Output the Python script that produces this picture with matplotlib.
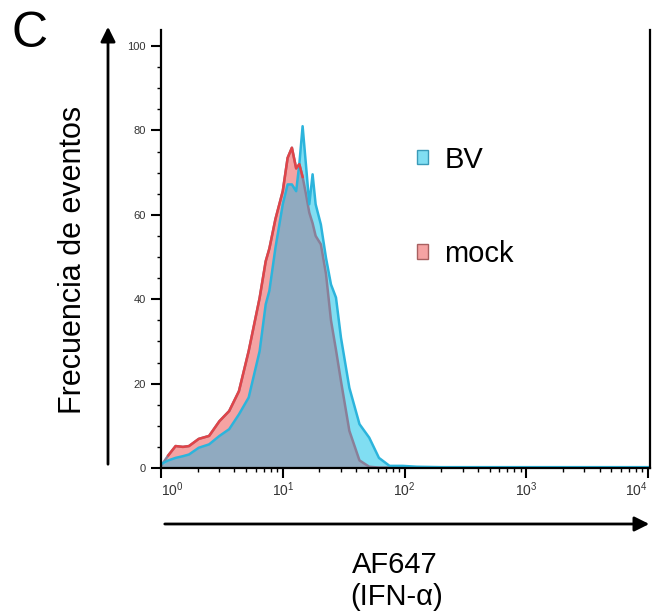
import numpy as np
import matplotlib
matplotlib.use("Agg")
import matplotlib.pyplot as plt
from matplotlib.patches import Patch
from matplotlib.ticker import FixedLocator, NullFormatter

plt.rcParams['font.family'] = ['Liberation Sans', 'DejaVu Sans']
plt.rcParams['mathtext.default'] = 'regular'

# posiciones del histograma en log10(AF647)
log_x = np.array([0.0, 0.06, 0.12, 0.18, 0.23, 0.31, 0.395, 0.48, 0.56, 0.64,
                  0.72, 0.81, 0.86, 0.89, 0.94, 1.0, 1.04, 1.075, 1.11, 1.136,
                  1.163, 1.19, 1.218, 1.245, 1.27, 1.313, 1.355, 1.396, 1.437,
                  1.478, 1.547, 1.63, 1.71, 1.79, 1.877, 1.986, 2.1, 2.3, 2.6,
                  3.0, 3.5, 4.0])
# frecuencia de eventos (% del max)
mock = np.array([0.5, 3.0, 5.2, 5.0, 5.2, 6.9, 7.6, 11.1, 13.5, 18.2,
                 27.7, 40.3, 49.0, 52.0, 59.0, 65.6, 73.5, 75.9, 71.0, 72.0,
                 69.0, 65.0, 60.5, 58.0, 55.0, 53.0, 46.0, 35.0, 28.0,
                 20.6, 8.8, 1.8, 0.3, 0.1, 0.1, 0.0, 0.0, 0.0, 0.0,
                 0.0, 0.0, 0.0])
bv = np.array([0.9, 1.8, 2.4, 2.8, 3.2, 4.8, 5.6, 7.6, 9.2, 12.7,
               16.7, 27.7, 38.8, 42.0, 52.2, 62.5, 67.2, 67.2, 65.6, 72.0,
               81.0, 72.0, 62.5, 69.6, 62.5, 57.7, 49.8, 43.5, 40.4,
               30.9, 19.0, 10.4, 7.2, 2.4, 0.5, 0.5, 0.3, 0.2, 0.2,
               0.2, 0.2, 0.2])
decades = [0, 1, 2, 3, 4]
y_ticks = [0, 20, 40, 60, 80, 100]

x = 10.0 ** log_x
overlap = np.minimum(mock, bv)

fig = plt.figure(figsize=(6.52, 6.14), dpi=100)
ax = fig.add_axes([161 / 652, 1 - 468 / 614, 489 / 652, 438 / 614])

# rellenos
ax.fill_between(x, 0, bv, color='#80def2', lw=0)
ax.fill_between(x, bv, mock, where=mock > bv, interpolate=True, color='#f5a3a3', lw=0)
ax.fill_between(x, 0, overlap, color='#90aac0', lw=0)

# contornos
ax.plot(x, mock, color='#8a7f98', lw=1.8)
ax.plot(x, bv, color='#2cb4dc', lw=1.8)
red_part = mock >= bv
red_part = red_part | np.roll(red_part, 1)
ax.plot(x, np.where(red_part, mock, np.nan), color='#e04448', lw=1.8)

ax.set_xscale('log')
ax.set_xlim(1, 10 ** 4.016)
ax.set_ylim(0, 103.8)

ax.xaxis.set_major_locator(FixedLocator([10.0 ** d for d in decades]))
ax.set_xticklabels([r'$10^{%d}$' % d for d in decades])
minors = [m * 10.0 ** d for d in decades[:-1] for m in range(2, 10)]
ax.xaxis.set_minor_locator(FixedLocator(minors))
ax.xaxis.set_minor_formatter(NullFormatter())

ax.set_yticks(y_ticks)
ax.yaxis.set_minor_locator(FixedLocator(np.arange(0, 101, 5)))

ax.tick_params(axis='both', which='major', length=7, width=1.5,
               labelcolor='#333333', pad=2)
ax.tick_params(axis='x', which='major', labelsize=10)
ax.tick_params(axis='y', which='major', labelsize=8, pad=4)
ax.tick_params(axis='both', which='minor', length=3, width=1)

xlabels = ax.get_xticklabels()
xlabels[0].set_ha('left')
xlabels[-1].set_ha('right')

for side in ['left', 'bottom', 'right']:
    ax.spines[side].set_linewidth(1.6)
ax.spines['top'].set_visible(False)

ax.legend(handles=[Patch(fc='#80def2', ec='#3a9ab8', label='BV'),
                   Patch(fc='#f5a3a3', ec='#a86060', label='mock')],
          loc='upper left', bbox_to_anchor=(0.47, 0.796), frameon=False,
          fontsize=21, handlelength=0.38, handleheight=0.38,
          handletextpad=0.55, labelspacing=2.27)

# flechas de los ejes
fig.add_artist(matplotlib.patches.FancyArrowPatch(
    (108 / 652, 1 - 467 / 614), (108 / 652, 1 - 24 / 614),
    transform=fig.transFigure, arrowstyle='-|>', mutation_scale=22,
    lw=2, color='black'))
fig.add_artist(matplotlib.patches.FancyArrowPatch(
    (162 / 652, 1 - 524 / 614), (652 / 652, 1 - 524 / 614),
    transform=fig.transFigure, arrowstyle='-|>', mutation_scale=22,
    lw=2, color='black'))

fig.text(73 / 652, 1 - 260 / 614, 'Frecuencia de eventos', rotation=90,
         ha='center', va='center', fontsize=22)
fig.text(395 / 652, 1 - 565 / 614, 'AF647', ha='center', va='center', fontsize=21)
fig.text(397 / 652, 1 - 597 / 614, '(IFN-α)', ha='center', va='center', fontsize=21)
fig.text(30 / 652, 1 - 34 / 614, 'C', ha='center', va='center', fontsize=36)

fig.savefig('out.png', dpi=100)
